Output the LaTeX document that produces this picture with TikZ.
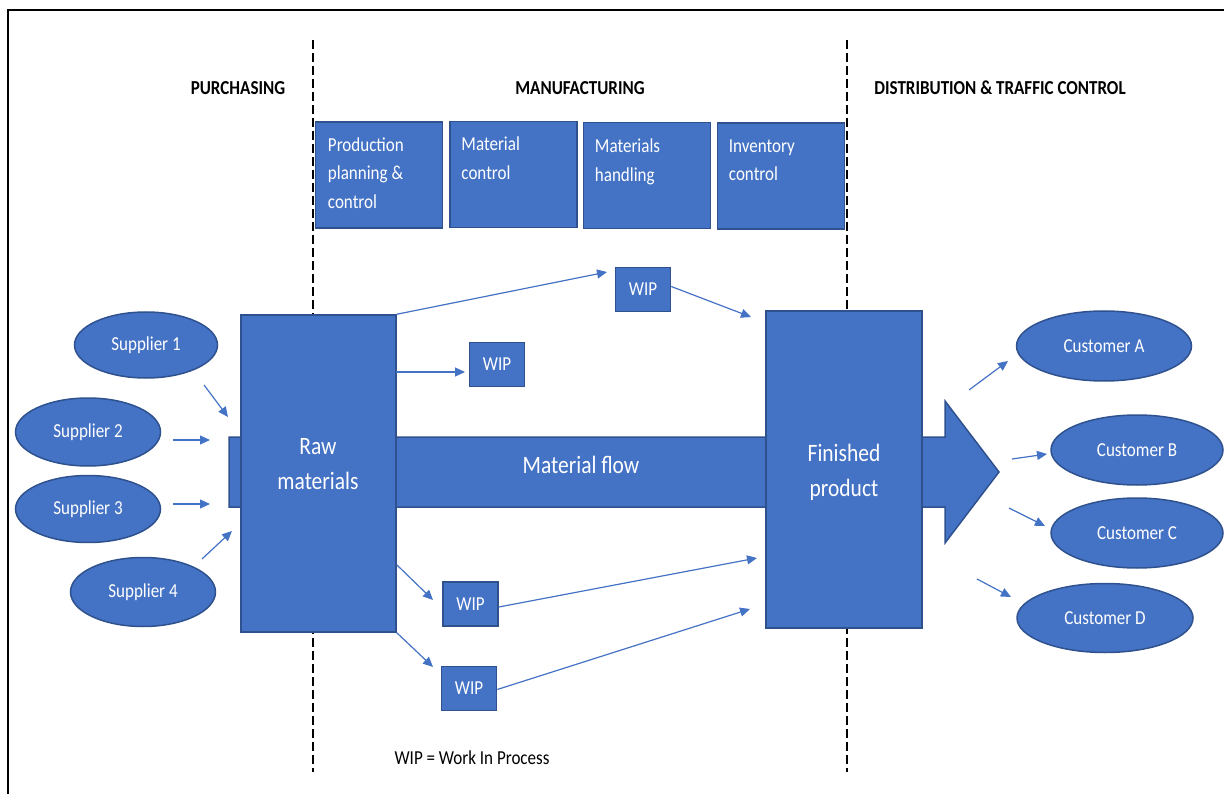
\documentclass[tikz,border=0pt]{standalone}
\usepackage{fontspec}
\setmainfont{Carlito}[FakeStretch=0.86]
\usepackage{tikz}
\usetikzlibrary{arrows.meta,shapes.geometric}
\definecolor{boxblue}{HTML}{4472C4}
\definecolor{boxline}{HTML}{2F528F}
\tikzset{%
  tipF/.tip={Triangle[length=10pt,width=9pt]},
  block/.style={draw=boxline, fill=boxblue, line width=1.5pt, inner sep=0pt},
  party/.style={block, ellipse, text=white, font=\fontsize{19.8}{22}\selectfont},
  wip/.style={block, minimum width=55pt, minimum height=44pt, text=white, font=\fontsize{19.8}{22}\selectfont},
  dept/.style={block, minimum width=127pt, minimum height=106pt},
  depttext/.style={anchor=north west, inner sep=0pt, text=white, align=left, font=\fontsize{19.8}{28.5}\selectfont},
  bigtext/.style={text=white, align=center, font=\fontsize{25}{35}\selectfont},
  feed/.style={draw=boxblue, line width=1.2pt, -tipF},
  zone/.style={font=\bfseries\fontsize{19.8}{22}\selectfont},
  divider/.style={line width=1.8pt, dash pattern=on 9pt off 4pt},
}

\begin{document}
\begin{tikzpicture}[x=1pt,y=-1pt]
	\useasboundingbox (0,0) rectangle (1224,794);
	\draw[line width=2pt] (8,794) -- (8,10) -- (1224,10);
	\draw[divider] (313,40) -- (313,772);
	\draw[divider] (847,40) -- (847,772);
	\node[zone] (purch) at (238,88) {PURCHASING};
	\node[zone] (manuf) at (580,88) {MANUFACTURING};
	\node[zone] (distr) at (1000,88) {DISTRIBUTION \& TRAFFIC CONTROL};
	% manufacturing functions
	\node[dept] (ppc) at (379,175) {};
	\node[dept] (mc) at (513.5,174.5) {};
	\node[dept] (mh) at (647,175.5) {};
	\node[dept] (ic) at (781,176) {};
	\node[depttext] at ([shift={(13,16)}]ppc.north west) {Production\\planning \&\\control};
	\node[depttext] at ([shift={(12,16)}]mc.north west) {Material\\control};
	\node[depttext] at ([shift={(12,17)}]mh.north west) {Materials\\handling};
	\node[depttext] at ([shift={(12,17)}]ic.north west) {Inventory\\control};
	% material flow arrow
	\draw[block] (229,437) -- (945,437) -- (945,401) -- (999,472) -- (945,543) -- (945,507) -- (229,507) -- cycle;
	\node[bigtext] (flow) at (581,465) {Material flow};
	\node[block, minimum width=155pt, minimum height=317pt] (raw) at (318.5,473.5) {};
	\node[bigtext] (rawtxt) at (318,464) {Raw\\materials};
	\node[block, minimum width=156pt, minimum height=317pt] (fin) at (844,469.5) {};
	\node[bigtext] (fintxt) at (844,472) {Finished\\product};
	% work in process
	\node[wip] (wipA) at (643,289.5) {WIP};
	\node[wip] (wipB) at (497,364.5) {WIP};
	\node[wip] (wipC) at (470.5,604) {WIP};
	\node[wip] (wipD) at (469,688.5) {WIP};
	\coordinate (inA) at (607,272);
	\coordinate (inB) at (465,372);
	\coordinate (outB) at (396,372);
	\coordinate (inC) at (433,600);
	\coordinate (outC) at (397,565);
	\coordinate (inD) at (433,667);
	\coordinate (finA) at (751,317);
	\coordinate (finC) at (757,558);
	\coordinate (finD) at (750,609);
	\draw[feed] (raw.north east) -- (inA);
	\draw[feed] (wipA.east) ++(0,-3) -- (finA);
	\draw[feed] (outB) -- (inB);
	\draw[feed] (outC) -- (inC);
	\draw[feed] (raw.south east) -- (inD);
	\draw[feed] (wipC.east) ++(0,3) -- (finC);
	\draw[feed] (wipD.east) ++(0,1) -- (finD);
	% suppliers
	\node[party, minimum width=143pt, minimum height=66pt] (sup1) at (146,345) {Supplier 1};
	\node[party, minimum width=145pt, minimum height=68pt] (sup2) at (88,432) {Supplier 2};
	\node[party, minimum width=145pt, minimum height=67pt] (sup3) at (88,509) {Supplier 3};
	\node[party, minimum width=145pt, minimum height=69pt] (sup4) at (143,592) {Supplier 4};
	\coordinate (s1a) at (204,385); \coordinate (s1b) at (228,417);
	\coordinate (s2a) at (173,440); \coordinate (s2b) at (210,440);
	\coordinate (s3a) at (173,504); \coordinate (s3b) at (210,504);
	\coordinate (s4a) at (202,559); \coordinate (s4b) at (232,531);
	\draw[feed] (s1a) -- (s1b);
	\draw[feed] (s2a) -- (s2b);
	\draw[feed] (s3a) -- (s3b);
	\draw[feed] (s4a) -- (s4b);
	% customers
	\node[party, minimum width=175pt, minimum height=70pt] (cusA) at (1104,346) {Customer A};
	\node[party, minimum width=172pt, minimum height=70pt] (cusB) at (1137,450) {Customer B};
	\node[party, minimum width=172pt, minimum height=70pt] (cusC) at (1137,533) {Customer C};
	\node[party, minimum width=176pt, minimum height=69pt] (cusD) at (1105,618) {Customer D};
	\coordinate (cAa) at (969,390); \coordinate (cAb) at (1008,361);
	\coordinate (cBa) at (1012,459); \coordinate (cBb) at (1047,454);
	\coordinate (cCa) at (1009,508); \coordinate (cCb) at (1045,526);
	\coordinate (cDa) at (977,579); \coordinate (cDb) at (1011,597);
	\draw[feed] (cAa) -- (cAb);
	\draw[feed] (cBa) -- (cBb);
	\draw[feed] (cCa) -- (cCb);
	\draw[feed] (cDa) -- (cDb);
	\node[font=\fontsize{19.8}{22}\selectfont] (legend) at (472,758) {WIP = Work In Process};
\end{tikzpicture}
\end{document}
